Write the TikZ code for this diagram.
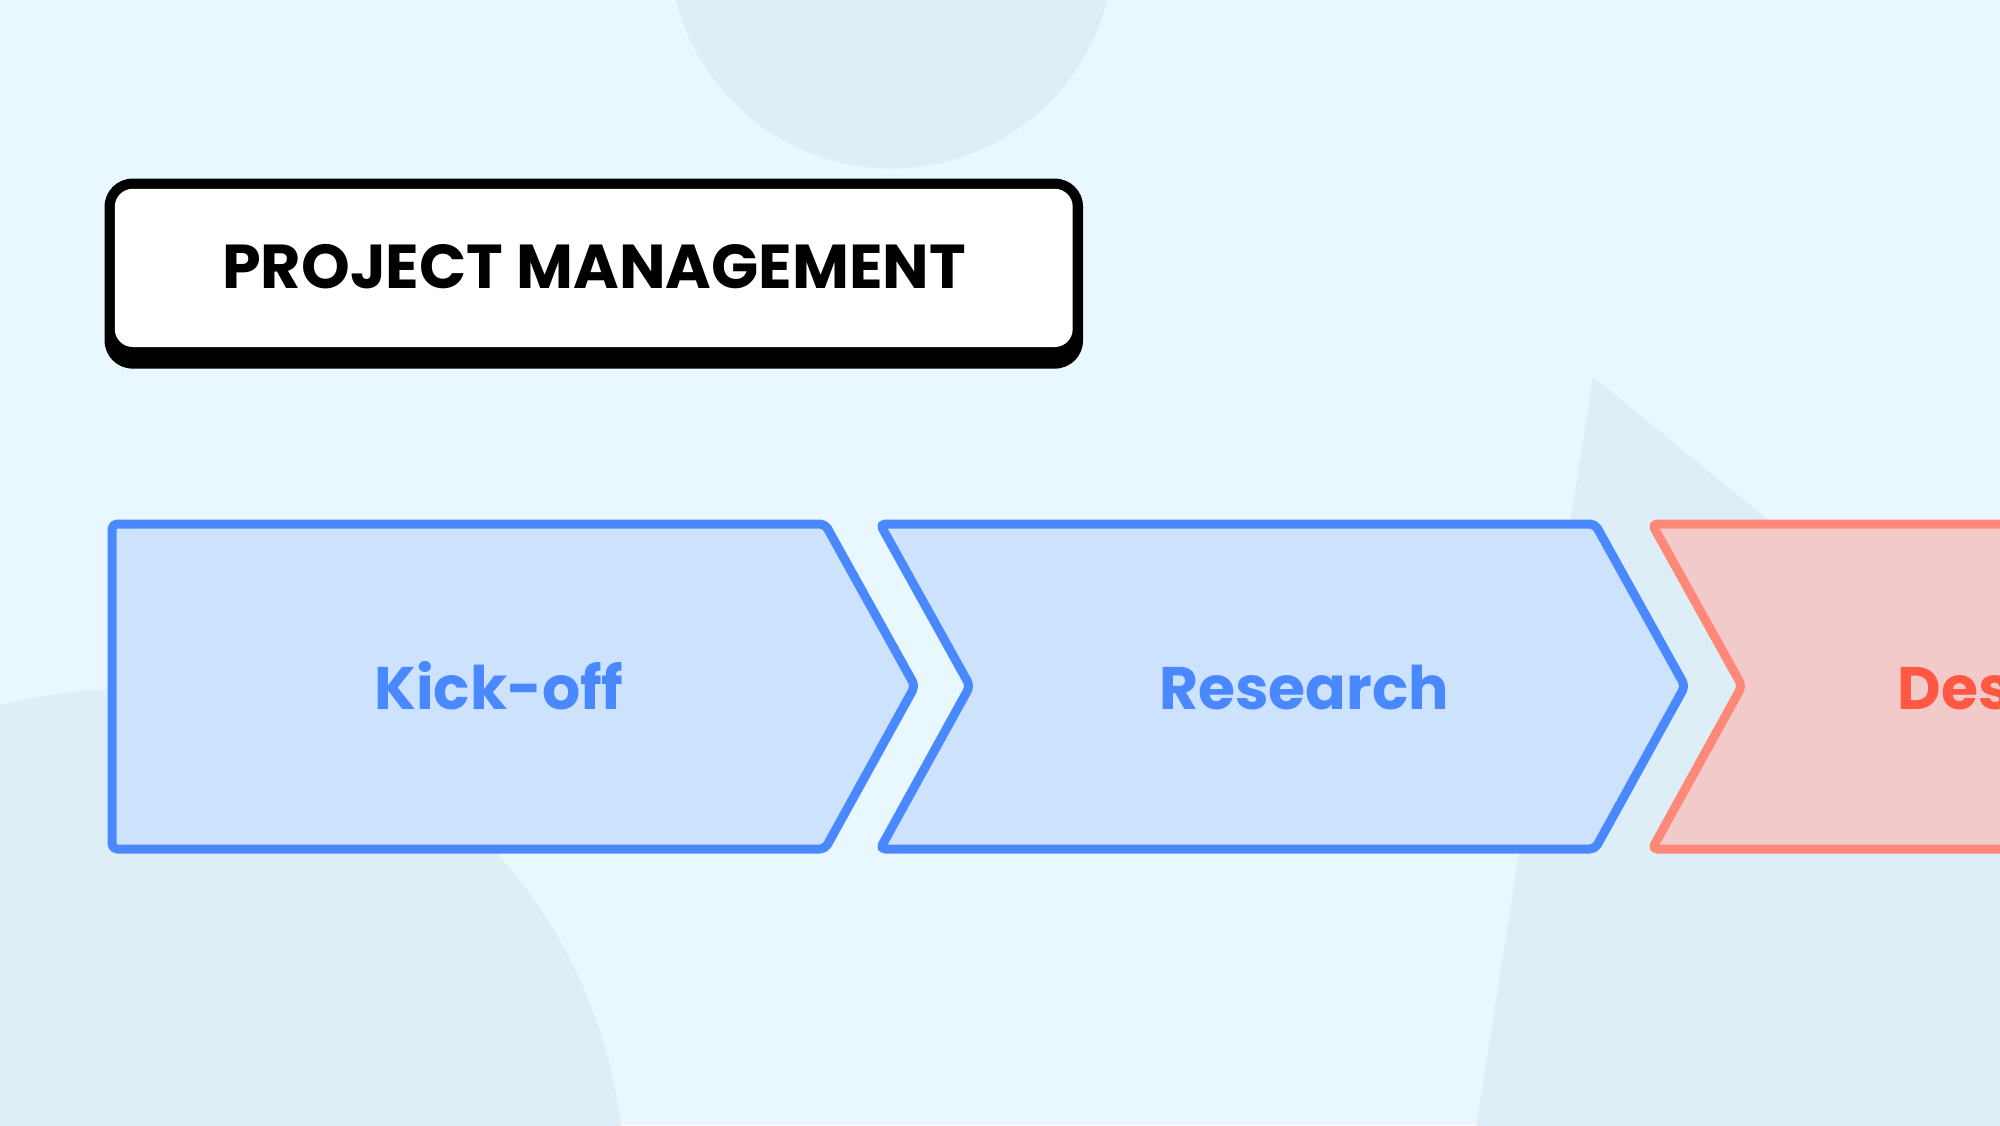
\documentclass[tikz,border=0pt]{standalone}
\usepackage{fontspec}
\setmainfont{Poppins}
\definecolor{bg}{HTML}{E9F7FE}
\definecolor{deco}{HTML}{DDEEF6}
\definecolor{bstroke}{HTML}{4A88FF}
\definecolor{bfill}{HTML}{CCE2FD}
\definecolor{rstroke}{HTML}{FF8878}
\definecolor{rfill}{HTML}{F2CACA}
\definecolor{rtext}{HTML}{FF5944}
\tikzset{
  chevblue/.style={draw=bstroke, fill=bfill, line width=4.5pt, line join=round, rounded corners=2.5pt},
  chevred/.style={draw=rstroke, fill=rfill, line width=4.5pt, line join=round, rounded corners=2.5pt},
  label/.style={font=\fontsize{30}{36}\selectfont\bfseries, inner sep=0pt, anchor=base},
}
\begin{document}
\begin{tikzpicture}[x=0.5pt,y=-0.5pt]
\useasboundingbox (0,0) rectangle (2000,1125);
\clip (0,0) rectangle (2000,1125);
\fill[bg] (0,0) rectangle (2000,1125);
% decorative shapes
\fill[deco] (891.6,-53.6) circle (222);
\fill[deco] (127.5,1186) circle (497);
\fill[deco] (1593,377) -- (2200,872) -- (2200,1200) -- (1465,1200) -- cycle;
% title box
\fill[black, rounded corners=14pt] (104.6,178.6) rectangle (1083,368.6);
\fill[white, rounded corners=9pt] (114.8,188.8) rectangle (1072.7,347);
\node[font=\fontsize{31}{37}\selectfont\bfseries, inner sep=0pt] (title) at (594,267) {PROJECT MANAGEMENT};
% chevrons
\draw[chevblue] (112,524) -- (825,524) -- (915,686) -- (825,849) -- (112,849) -- cycle;
\draw[chevblue] (880,524) -- (1595,524) -- (1685,686) -- (1595,849) -- (880,849) -- (970,686) -- cycle;
\draw[chevred] (1652,524) -- (2365,524) -- (2455,686) -- (2365,849) -- (1652,849) -- (1742,686) -- cycle;
\node[label, text=bstroke] (kick) at (499,709) {Kick-off};
\node[label, text=bstroke] (research) at (1304,709) {Research};
\node[label, text=rtext, anchor=base west] (design) at (1897,709) {Design};
\end{tikzpicture}
\end{document}
